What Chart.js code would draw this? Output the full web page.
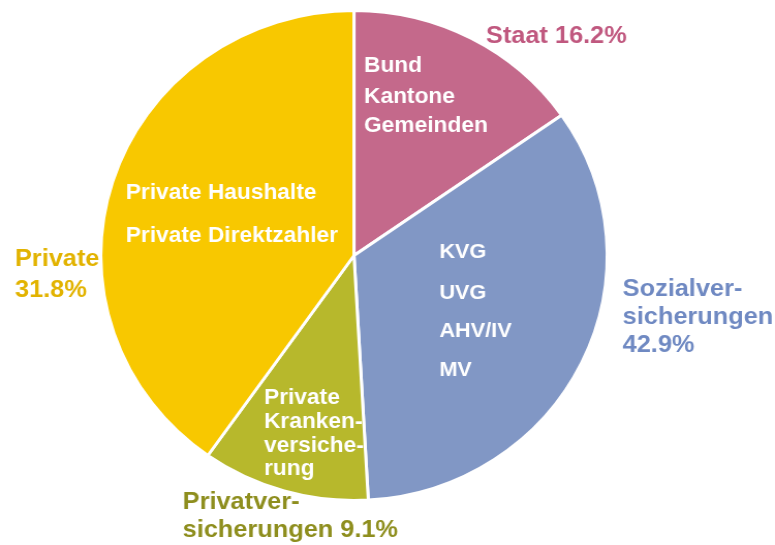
<!DOCTYPE html>
<html>
<head>
<meta charset="utf-8">
<script src="https://cdn.jsdelivr.net/npm/chart.js@4"></script>
<style>
  html, body { margin: 0; padding: 0; background: #ffffff; }
  #c { display: block; width: 775px; height: 545px; }
</style>
</head>
<body>
<canvas id="c" width="750" height="545" style="width:775px;height:545px"></canvas>
<script>
// ---- data ----
const categories = ['Staat', 'Sozialversicherungen', 'Privatversicherungen', 'Private'];
// shares printed in the labels (%)
const labelShares = [16.2, 42.9, 9.1, 31.8];
// slice sizes as drawn in the picture (% of the full circle)
const sliceValues = [15.3, 33.8, 10.7, 40.2];
const sliceColors = ['#C4698B', '#8197C5', '#B7B82C', '#F8C800'];
const labelColors = ['#C0587F', '#6F89C2', '#8E8E1E', '#E2B300'];

const fmt = v => v.toFixed(1) + '%';
// outer label lines (per category)
const outerLines = [
  ['Staat ' + fmt(labelShares[0])],
  ['Sozialver-', 'sicherungen', fmt(labelShares[1])],
  ['Privatver-', 'sicherungen ' + fmt(labelShares[2])],
  ['Private', fmt(labelShares[3])]
];
// inner label lines (per category)
const innerLines = [
  ['Bund', 'Kantone', 'Gemeinden'],
  ['KVG', 'UVG', 'AHV/IV', 'MV'],
  ['Private', 'Kranken-', 'versiche-', 'rung'],
  ['Private Haushalte', 'Private Direktzahler']
];

// ---- layout (text placement, canvas units) ----
const SX = 775 / 750;
const outerPos = [
  { x: 486 / SX, y: [43] },
  { x: 622.7 / SX, y: [296, 324, 352.3] },
  { x: 182.7 / SX, y: [509.3, 537.3] },
  { x: 15 / SX, y: [266, 296.7] }
];
const innerPos = [
  { x: 364 / SX, y: [72.3, 102.5, 132], size: 22 },
  { x: 439.3 / SX, y: [257.7, 299, 337.3, 375.7], size: 21 },
  { x: 264 / SX, y: [404, 427.5, 451.5, 475], size: 22 },
  { x: 125.7 / SX, y: [199, 241.7], size: 22 }
];

const textPlugin = {
  id: 'pieText',
  afterDraw(chart) {
    const ctx = chart.ctx;
    ctx.save();
    ctx.textAlign = 'left';
    ctx.textBaseline = 'alphabetic';
    for (let i = 0; i < categories.length; i++) {
      ctx.fillStyle = labelColors[i];
      ctx.font = 'bold 24.5px "Liberation Sans", Arial, sans-serif';
      outerLines[i].forEach((t, j) => ctx.fillText(t, outerPos[i].x, outerPos[i].y[j]));
      ctx.fillStyle = '#ffffff';
      ctx.font = 'bold ' + innerPos[i].size + 'px "Liberation Sans", Arial, sans-serif';
      innerLines[i].forEach((t, j) => ctx.fillText(t, innerPos[i].x, innerPos[i].y[j]));
    }
    ctx.restore();
  }
};

const cx = 354 / SX, cy = 255.5, R = 245;
new Chart(document.getElementById('c'), {
  type: 'pie',
  data: {
    labels: categories,
    datasets: [{
      data: sliceValues,
      backgroundColor: sliceColors,
      borderColor: '#ffffff',
      borderWidth: 3
    }]
  },
  options: {
    responsive: false,
    animation: false,
    radius: R,
    layout: {
      padding: { left: cx - R, right: 750 - (cx + R), top: cy - R, bottom: 545 - (cy + R) }
    },
    plugins: {
      legend: { display: false },
      tooltip: { enabled: false },
      title: { display: false }
    }
  },
  plugins: [textPlugin]
});
</script>
</body>
</html>
